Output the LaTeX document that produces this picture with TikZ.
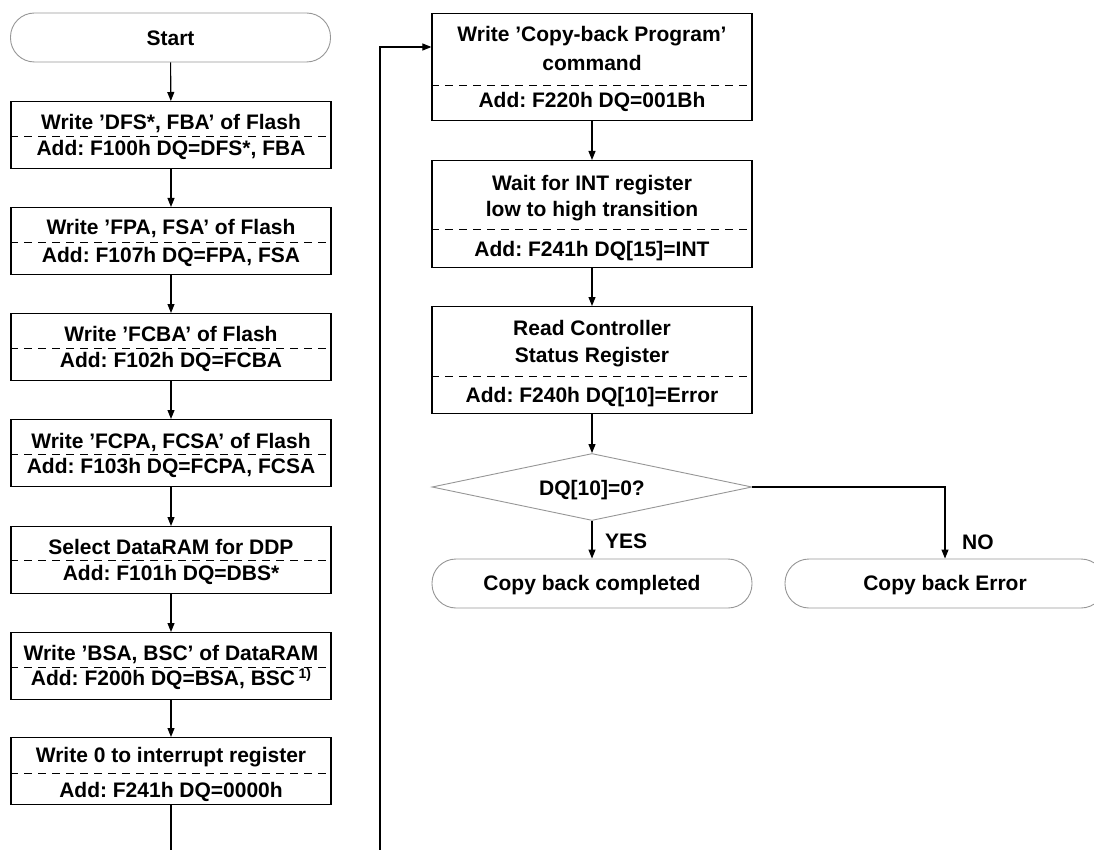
\documentclass[tikz,border=0pt]{standalone}
\usepackage{fontspec}
\setmainfont{Liberation Sans}
\usetikzlibrary{shapes.geometric,arrows.meta,calc}
\definecolor{tgray}{RGB}{150,150,150}
\frenchspacing
\begin{document}
\frenchspacing
\begin{tikzpicture}[x=1pt,y=-1pt,
  box/.style={draw,line width=1.2pt,minimum width=320pt,minimum height=67pt,inner sep=0pt,anchor=north},
  tallbox/.style={box,minimum height=107pt},
  term/.style={draw=tgray,line width=0.9pt,rounded corners=24pt,minimum width=320pt,minimum height=49pt,inner sep=0pt},
  decision/.style={draw=tgray,line width=0.9pt,diamond,aspect=4.78,minimum width=320pt,minimum height=67pt,inner sep=0pt},
  lbl/.style={font=\bfseries\fontsize{21}{26}\selectfont\frenchspacing,inner sep=0pt,anchor=base},
  arr/.style={-{Triangle[length=9pt,width=7pt]},line width=1.1pt},
  conn/.style={line width=1.1pt},
  sep/.style={dash pattern=on 8pt off 6pt,line width=0.9pt}]
\useasboundingbox (0,0) rectangle (1094,850);
\clip (0,0) rectangle (1094,850);

% ---------- left column ----------
\node[term] (start) at (170.5,37.5) {};
\node[lbl] at (170.5,46) {Start};

\node[box] (b1) at (171,101) {};
\draw[sep] ($(b1.north west)+(0,35)$) -- ($(b1.north east)+(0,35)$);
\node[lbl] at (171,130) {Write ’DFS*, FBA’ of Flash};
\node[lbl] at (171,156) {Add: F100h DQ=DFS*, FBA};

\node[box] (b2) at (171,207) {};
\draw[sep] ($(b2.north west)+(0,35)$) -- ($(b2.north east)+(0,35)$);
\node[lbl] at (171,235) {Write ’FPA, FSA’ of Flash};
\node[lbl] at (171,262) {Add: F107h DQ=FPA, FSA};

\node[box] (b3) at (171,313) {};
\draw[sep] ($(b3.north west)+(0,35)$) -- ($(b3.north east)+(0,35)$);
\node[lbl] at (171,341) {Write ’FCBA’ of Flash};
\node[lbl] at (171,367) {Add: F102h DQ=FCBA};

\node[box] (b4) at (171,419) {};
\draw[sep] ($(b4.north west)+(0,35)$) -- ($(b4.north east)+(0,35)$);
\node[lbl] at (171,448) {Write ’FCPA, FCSA’ of Flash};
\node[lbl] at (171,473) {Add: F103h DQ=FCPA, FCSA};

\node[box] (b5) at (171,526) {};
\draw[sep] ($(b5.north west)+(0,34)$) -- ($(b5.north east)+(0,34)$);
\node[lbl] at (171,554) {Select DataRAM for DDP};
\node[lbl] at (171,580) {Add: F101h DQ=DBS*};

\node[box] (b6) at (171,632) {};
\draw[sep] ($(b6.north west)+(0,35)$) -- ($(b6.north east)+(0,35)$);
\node[lbl] at (171,660) {Write ’BSA, BSC’ of DataRAM};
\node[lbl] at (171,685) {Add: F200h DQ=BSA, BSC\,\raisebox{7pt}{\fontsize{14}{14}\selectfont 1)}};

\node[box] (b7) at (171,737) {};
\draw[sep] ($(b7.north west)+(0,36)$) -- ($(b7.north east)+(0,36)$);
\node[lbl] at (171,762) {Write 0 to interrupt register};
\node[lbl] at (171,797) {Add: F241h DQ=0000h};

\draw[arr] (start) -- (b1);
\draw[arr] (b1) -- (b2);
\draw[arr] (b2) -- (b3);
\draw[arr] (b3) -- (b4);
\draw[arr] (b4) -- (b5);
\draw[arr] (b5) -- (b6);
\draw[arr] (b6) -- (b7);
\coordinate (fbout) at (171,850);
\draw[conn] (b7) -- (fbout);

% ---------- right column ----------
\node[tallbox] (bA) at (592,13) {};
\draw[sep] ($(bA.north west)+(0,72)$) -- ($(bA.north east)+(0,72)$);
\node[lbl] at (592,42) {Write ’Copy-back Program’};
\node[lbl] at (592,71) {command};
\node[lbl] at (592,108) {Add: F220h DQ=001Bh};

\node[tallbox] (bB) at (592,160) {};
\draw[sep] ($(bB.north west)+(0,69)$) -- ($(bB.north east)+(0,69)$);
\node[lbl] at (592,191) {Wait for INT register};
\node[lbl] at (592,217) {low to high transition};
\node[lbl] at (592,256) {Add: F241h DQ[15]=INT};

\node[tallbox] (bC) at (592,306) {};
\draw[sep] ($(bC.north west)+(0,70)$) -- ($(bC.north east)+(0,70)$);
\node[lbl] at (592,335) {Read Controller};
\node[lbl] at (592,362) {Status Register};
\node[lbl] at (592,402) {Add: F240h DQ[10]=Error};

\node[decision] (dia) at (592,487) {};
\node[lbl] at (592,495) {DQ[10]=0?};

\node[term] (done) at (592,583.5) {};
\node[lbl] at (592,590) {Copy back completed};
\node[term] (err) at (945,583.5) {};
\node[lbl] at (945,590) {Copy back Error};

\coordinate (fbin) at (380,850);
\draw[arr] (fbin) |- ($(bA.north west)+(0,34)$);
\draw[arr] (bA) -- (bB);
\draw[arr] (bB) -- (bC);
\draw[arr] (bC) -- (dia);
\draw[arr] (dia) -- (done);
\draw[arr] (dia.east) -| (err.north);
\node[lbl,anchor=base west] (yes) at (605,548) {YES};
\node[lbl,anchor=base west] (no) at (962,549) {NO};
\end{tikzpicture}
\end{document}
